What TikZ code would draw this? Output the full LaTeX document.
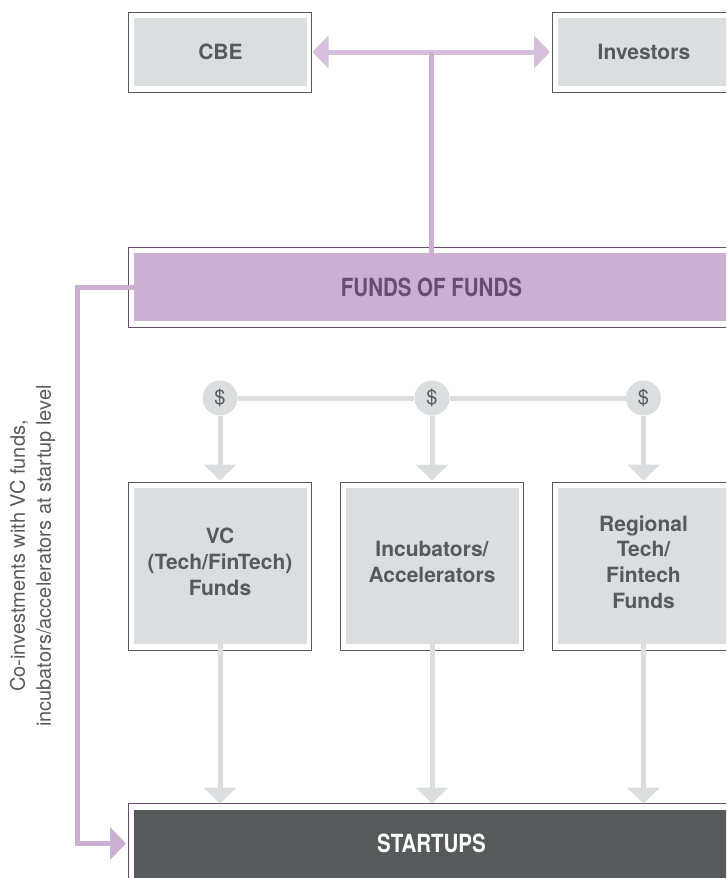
\documentclass[tikz,border=0pt]{standalone}
\usepackage{fontspec}
\setmainfont{TeX Gyre Heros}
\newfontfamily\condfont[FakeStretch=0.82]{TeX Gyre Heros}
\usepackage{xcolor}
\usetikzlibrary{arrows.meta}
\definecolor{boxgray}{HTML}{DCDDDE}
\definecolor{textgray}{HTML}{58595B}
\definecolor{lilac}{HTML}{CBB0D4}
\definecolor{paleLilac}{HTML}{D5BFDD}
\definecolor{plum}{HTML}{6B4C70}

\begin{document}
\begin{tikzpicture}[x=1pt, y=-1pt,
  frame/.style={draw=textgray, line width=1pt, minimum width=183pt, minimum height=80pt, outer sep=0pt},
  tall/.style={minimum height=168pt},
  wide/.style={minimum width=607pt},
  purpleframe/.style={draw=plum},
  label text/.style={text=textgray, font=\fontsize{21}{25.8}\selectfont\bfseries, align=center, inner sep=0pt},
  inner/.style={fill=boxgray, label text, minimum width=173pt, minimum height=68pt, outer sep=0pt},
  tallinner/.style={minimum height=156pt},
  wideinner/.style={minimum width=595pt},
  money/.style={circle, fill=boxgray, text=textgray, minimum size=35pt, inner sep=0pt, font=\fontsize{20}{24}\selectfont},
  banner/.style={font=\fontsize{25}{30}\condfont\bfseries},
  grayline/.style={draw=boxgray, line width=5pt},
  grayarrow/.style={grayline, -{Triangle[length=16pt, width=32pt]}},
  lilacline/.style={draw=lilac, line width=5pt},
  sidenote/.style={rotate=90, text=textgray, align=center, font=\fontsize{20}{26}\selectfont}]
\clip (0, 0) rectangle (726, 878);

\node [frame] (cbe) at (220, 52) {};
\node [inner] (cbeIn) at (220.5, 52) {CBE};
\node [frame] (inv) at (643.5, 52) {};
\node [inner] (invIn) at (644, 52) {Investors};

\node [frame, wide, purpleframe] (fof) at (431.5, 287) {};
\node [inner, wideinner, fill=lilac, text=plum, banner] (fofIn) at (fof) {FUNDS OF FUNDS};

\node [money] (d1) at (220, 398) {\$};
\node [money] (d2) at (432, 398) {\$};
\node [money] (d3) at (643.5, 398) {\$};

\node [frame, tall] (vc) at (220, 566) {};
\node [inner, tallinner] (vcIn) at (220.5, 566) {};
\node [label text] (vcText) at (220, 562) {VC\\(Tech/FinTech)\\Funds};
\node [frame, tall] (inc) at (432, 566) {};
\node [inner, tallinner] (incIn) at (432.5, 566) {};
\node [label text] (incText) at (432, 562) {Incubators/\\Accelerators};
\node [frame, tall] (reg) at (643.5, 566) {};
\node [inner, tallinner] (regIn) at (644, 566) {};
\node [label text] (regText) at (643.5, 562) {Regional\\Tech/\\Fintech\\Funds};

\node [frame, wide, purpleframe] (st) at (431.5, 843.5) {};
\node [inner, wideinner, fill=textgray, text=white, banner] (stIn) at (st) {STARTUPS};

% top arrows
\coordinate (join) at (fofIn.north |- cbe.east);
\draw [draw=paleLilac, line width=5pt, shorten >=2pt, shorten <=1pt, {Triangle[length=16pt, width=32pt]}-{Triangle[length=16pt, width=32pt]}] (cbe.east) -- (inv.west);
\draw [lilacline] (fofIn.north) -- (join);

% co-investment line
\coordinate (bend) at (77, 287);
\draw [lilacline, shorten >=2pt, -{Triangle[length=16pt, width=32pt]}] (fofIn.west) -- (bend) -- (bend |- st.west) -- (st.west);
\node [sidenote] (note) at (32.5, 556) {Co-investments with VC funds,\\incubators/accelerators at startup level};

% money flow
\draw [grayline] (d1) -- (d2) -- (d3);
\draw [grayarrow, shorten >=1.5pt] (d1) -- (vc.north);
\draw [grayarrow, shorten >=1.5pt] (d2) -- (inc.north);
\draw [grayarrow, shorten >=1.5pt] (d3) -- (reg.north);
\draw [grayarrow] (vc |- vcIn.south) -- (vc |- st.north);
\draw [grayarrow] (inc |- incIn.south) -- (inc |- st.north);
\draw [grayarrow] (reg |- regIn.south) -- (reg |- st.north);
\end{tikzpicture}
\end{document}
